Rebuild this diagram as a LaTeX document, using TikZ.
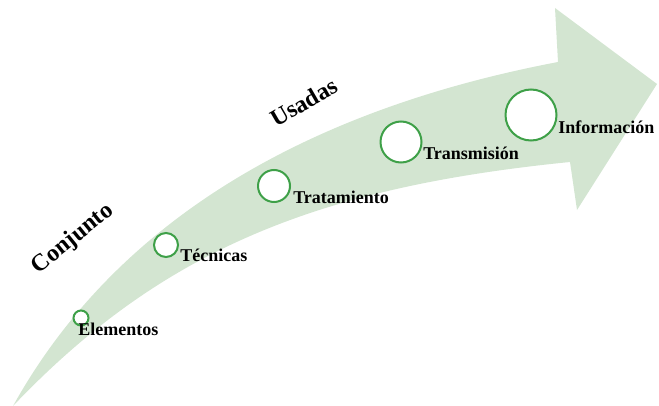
\documentclass[tikz,border=0pt]{standalone}
\usepackage{fontspec}
\setmainfont{Liberation Serif}
\definecolor{band}{RGB}{211,229,209}
\definecolor{ring}{RGB}{62,160,72}
\begin{document}
\begin{tikzpicture}[x=0.75pt,y=-0.75pt,
  dot/.style={circle,draw=ring,fill=white,line width=1.5pt,inner sep=0pt},
  lbl/.style={anchor=base west,inner sep=0pt,font=\fontsize{13.5}{16}\selectfont\bfseries},
  big/.style={inner sep=0pt,font=\fontsize{18}{21}\selectfont\bfseries}]
\useasboundingbox (0,0) rectangle (659,406);
% arrow band
\fill[band] (13,406) .. controls (133,190) and (358,100) .. (558,62)
  -- (555,8) -- (657,84) -- (577,210) -- (570,162)
  .. controls (320,187) and (163,248.5) .. (13,406) -- cycle;
% circles
\node[dot,minimum size=11.25pt] (c1) at (81,318) {};
\node[dot,minimum size=18pt] (c2) at (166,245) {};
\node[dot,minimum size=24pt] (c3) at (274,186) {};
\node[dot,minimum size=30.75pt] (c4) at (401,142) {};
\node[dot,minimum size=38.25pt] (c5) at (531,115) {};
% labels
\node[lbl] (t1) at (78,335) {Elementos};
\node[lbl] (t2) at (180,261) {Técnicas};
\node[lbl] (t3) at (293,203) {Tratamiento};
\node[lbl] (t4) at (423,159) {Transmisión};
\node[lbl] (t5) at (558,133) {Información};
% rotated words
\node[big,rotate=39] (w1) at (73,239) {Conjunto};
\node[big,rotate=30] (w2) at (304,102) {Usadas};
\end{tikzpicture}
\end{document}
